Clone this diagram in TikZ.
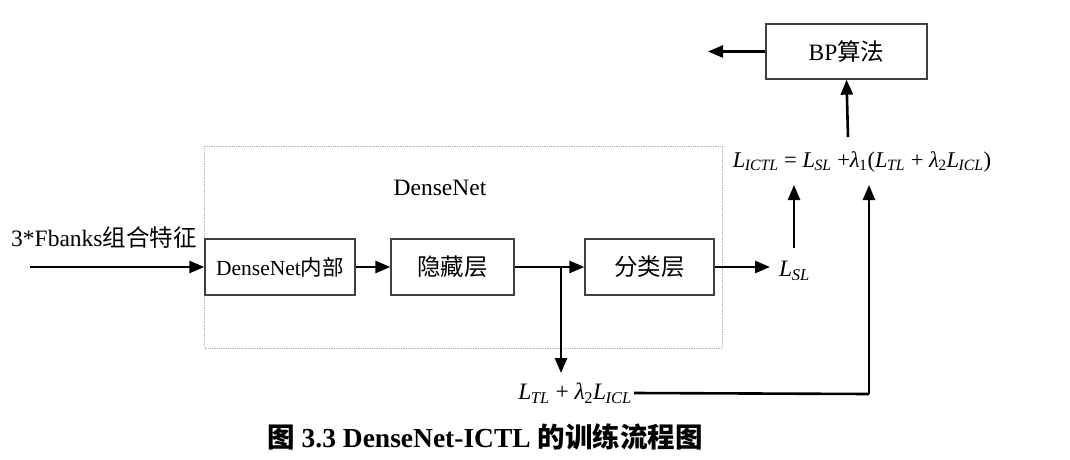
\documentclass[tikz,border=0pt]{standalone}
\usepackage{fontspec}
\setmainfont{Liberation Serif}
\newfontfamily\cjk{Noto Sans CJK SC}
\usetikzlibrary{arrows.meta}

% italic loss symbol with an italic subscript
\newcommand\Lsub[1]{\textit{L}\kern-0.5pt\textsubscript{\textit{#1}}}
\newcommand\lam[1]{\textit{λ}\kern-0.5pt\textsubscript{#1}}

\begin{document}
\begin{tikzpicture}[x=1pt,y=1pt,
  every node/.style={font=\fontsize{23.5}{28}\selectfont, inner sep=0pt},
  layerbox/.style={draw=black!75, line width=1.3pt, minimum height=56pt},
  flow/.style={line width=2.6pt, -{Triangle[length=15pt,width=12pt]}},
  plain/.style={line width=2.6pt},
  groupbox/.style={draw=black!30, line width=0.8pt, densely dotted}
]
\useasboundingbox (0,0) rectangle (1070,459);

% DenseNet group
\node[groupbox, minimum width=518pt, minimum height=202pt] (grp) at (463.5,212) {};
\node (grplbl) at (440,271) {DenseNet};

% layers
\node[layerbox, minimum width=150pt, font=\fontsize{21.5}{26}\selectfont] (inner) at (280,192) {DenseNet{\cjk 内部}};
\node[layerbox, minimum width=123pt] (hidden) at (452.5,192) {\cjk 隐藏层};
\node[layerbox, minimum width=129pt] (cls) at (649.5,192) {\cjk 分类层};

% input
\node[anchor=west] (inlbl) at (11,221) {3*Fbanks{\cjk 组合特征}};
\coordinate (in) at (30,192);

% losses
\node[anchor=west] (lsl) at (779,188) {\Lsub{SL}};
\node[font=\fontsize{22.5}{27}\selectfont] (total) at (862,297) {\Lsub{ICTL} = \Lsub{SL} +\lam{1}(\Lsub{TL} + \lam{2}\Lsub{ICL})};
\node (tl) at (575,66) {\Lsub{TL} + \lam{2}\Lsub{ICL}};

% BP
\node[layerbox, minimum width=161pt, minimum height=55pt] (bp) at (846.5,407.5) {BP{\cjk 算法}};
\coordinate (bpout) at (708,407.5);

% connectors
\draw[flow] (in) -- (inner.west);
\draw[flow] (inner) -- (hidden);
\draw[flow] (hidden) -- (cls);
\coordinate (branch) at (561,192);
\draw[flow] (branch) -- (561,86);
\draw[flow] (cls.east) -- (770,192);
\draw[flow] (794,211) -- (794,274);
\coordinate (tlend) at (869,65);
\draw[plain] (tl.east) ++(2,0) -- (tlend);
\draw[flow] (tlend) -- (869,274);
\draw[flow] (848,322) -- (bp.south);
\draw[flow] (bp.west) -- (bpout);

% caption
\node[font=\fontsize{27.5}{32}\selectfont\bfseries] (cap) at (485,22) {{\cjk 图} 3.3 DenseNet-ICTL {\cjk 的训练流程图}};
\end{tikzpicture}
\end{document}
